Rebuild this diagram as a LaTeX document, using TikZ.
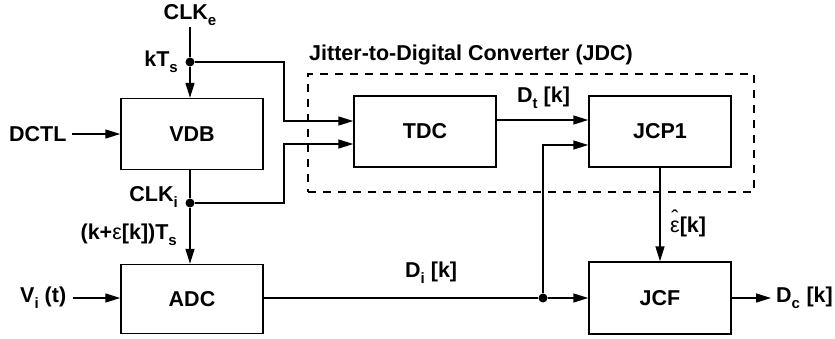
\documentclass[tikz,border=0pt]{standalone}
\usepackage{fontspec}
\setmainfont{Liberation Sans}
\usetikzlibrary{arrows.meta}
\newcommand\sbs[1]{\raisebox{-0.28em}{\fontsize{15}{15}\selectfont #1}}
\newcommand\hateps{{\mdseries\ooalign{ε\cr\hidewidth\raisebox{0.34em}{ˆ}\hidewidth\cr}}}
\begin{document}
\begin{tikzpicture}[x=1pt,y=-1pt,
  font=\fontsize{21.5}{23}\selectfont\bfseries,
  blk/.style={draw, line width=1.5pt, minimum width=142pt, minimum height=71pt, inner sep=0pt},
  wire/.style={line width=1.5pt},
  conn/.style={line width=1.5pt, -{Triangle[length=15pt,width=9pt]}},
  jdot/.style={circle, fill, inner sep=0pt, minimum size=9pt},
  lbl/.style={inner sep=0pt},
  frame/.style={draw, line width=1.5pt, dash pattern=on 8pt off 7pt, inner sep=0pt}]
\useasboundingbox (0,0) rectangle (835,338);
% blocks
\node[blk] (vdb) at (192,134) {VDB};
\node[blk, minimum height=69pt] (adc) at (192,299) {ADC};
\node[blk] (tdc) at (425,131.5) {TDC};
\node[blk] (jcp) at (660,131.5) {JCP1};
\node[blk, minimum height=72pt] (jcf) at (660,298) {JCF};
\node[frame, minimum width=446pt, minimum height=118pt] (jdc) at (531,133) {};
% labels
\node[lbl] (clke) at (190,15) {CLK\sbs{e}};
\node[lbl, anchor=east] (ktsl) at (178,62) {kT\sbs{s}};
\node[lbl, anchor=east] (clkil) at (178,197) {CLK\sbs{i}};
\node[lbl, anchor=east] (kel) at (177,235) {(k+{\mdseries ε}[k])T\sbs{s}};
\node[lbl, anchor=west] (dctl) at (9,134) {DCTL};
\node[lbl, anchor=west] (vi) at (20,298) {V\sbs{i} (t)};
\node[lbl, anchor=west] (dil) at (405,273) {D\sbs{i} [k]};
\node[lbl, anchor=west] (dtl) at (517,98) {D\sbs{t} [k]};
\node[lbl, anchor=west] (epl) at (670,227) {\hateps[k]};
\node[lbl, anchor=west] (dc) at (776,298) {D\sbs{c}\hspace{0.3em}[k]};
\node[lbl, anchor=west] (title) at (309,55) {Jitter-to-Digital Converter (JDC)};
% junctions
\coordinate (ctop) at (190,27);
\node[jdot] (kts) at (190,62) {};
\node[jdot] (clki) at (190,203) {};
\node[jdot] (dj) at (543,298) {};
\coordinate (b1) at (284,62);
\coordinate (b2) at (284,203);
\coordinate (da) at (72,134);
\coordinate (va) at (73,298);
% connectors
\draw[wire] (ctop) -- (kts);
\draw[conn] (kts) -- (kts |- vdb.north);
\draw[conn] (kts) -- (b1) |- ([yshift=10.5pt]tdc.west);
\draw[wire] (kts |- vdb.south) -- (clki);
\draw[conn] (clki) -- (clki |- adc.north);
\draw[conn] (clki) -- (b2) |- ([yshift=-12.5pt]tdc.west);
\draw[conn] (da) -- (vdb.west);
\draw[conn] (va) -- (adc.west |- va);
\draw[wire] (adc.east |- dj) -- (dj);
\draw[conn] (dj) -- (jcf.west |- dj);
\draw[conn] (dj) |- ([yshift=-13.5pt]jcp.west);
\draw[conn] ([yshift=11.5pt]tdc.east) -- ([yshift=11.5pt]jcp.west);
\draw[conn] (jcp.south) -- (jcf.north);
\draw[conn] (jcf.east) -- ([xshift=-5pt]dc.west);
\end{tikzpicture}
\end{document}
